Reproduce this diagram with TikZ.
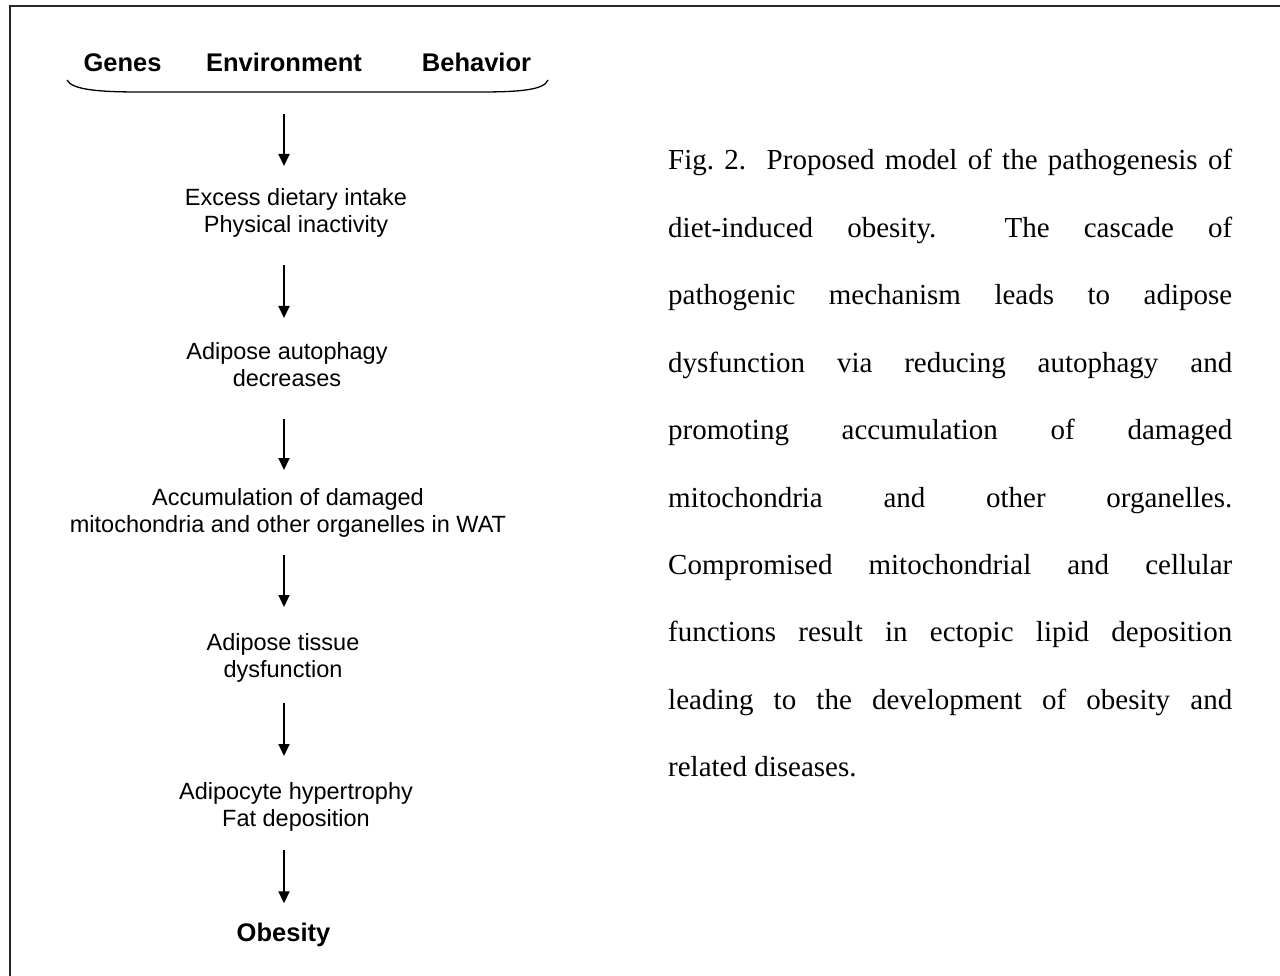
\documentclass[tikz,border=0pt]{standalone}
\usepackage{fontspec}
\setmainfont{Liberation Serif}
\newfontfamily\arialf{Liberation Sans}
\usetikzlibrary{arrows.meta}
\frenchspacing
\begin{document}
\begin{tikzpicture}[x=1pt,y=-1pt,
  steptext/.style={font=\arialf\fontsize{23.5}{27}\selectfont, align=center, inner sep=0pt, anchor=north},
  headtext/.style={font=\arialf\bfseries\fontsize{25.5}{30}\selectfont, inner sep=0pt, anchor=base},
  captext/.style={font=\fontsize{29}{34}\selectfont, inner sep=0pt, anchor=base west},
  flowarrow/.style={line width=1.8pt, -{Triangle[length=12pt,width=11pt]}},
  frameline/.style={line width=2.5pt, black!85},
  bracepath/.style={line width=1.3pt}]
\fill[white] (0,0) rectangle (1280,976);
\useasboundingbox (0,0) rectangle (1280,976);
\draw[frameline] (10,976) -- (10,6) -- (1280,6);

\node[headtext] (genes) at (122.5,72) {Genes};
\node[headtext] (env) at (284,72) {Environment};
\node[headtext] (behav) at (476.5,72) {Behavior};
\draw[bracepath] (67,80) .. controls (72,90) and (100,92) .. (140,92) -- (480,92) .. controls (520,92) and (544,90) .. (548,80);
\coordinate (bracemid) at (284,92);
\coordinate (ax) at (284,0);

\node[steptext] (s1) at (296,188) {Excess dietary intake\\Physical inactivity};
\node[steptext] (s2) at (287,342) {Adipose autophagy\\decreases};
\node[steptext] (s3) at (288,488) {Accumulation of damaged\\mitochondria and other organelles in WAT};
\node[steptext] (s4) at (283,633) {Adipose tissue\\dysfunction};
\node[steptext] (s5) at (296,782) {Adipocyte hypertrophy\\Fat deposition};
\node[headtext] (ob) at (283.5,941) {Obesity};

\draw[flowarrow, shorten <=22pt, shorten >=22pt] (bracemid) -- (s1.north -| ax);
\draw[flowarrow, shorten <=28pt, shorten >=24pt] (s1.south -| ax) -- (s2.north -| ax);
\draw[flowarrow, shorten <=32pt, shorten >=18pt] (s2.south -| ax) -- (s3.north -| ax);
\draw[flowarrow, shorten <=18pt, shorten >=26pt] (s3.south -| ax) -- (s4.north -| ax);
\draw[flowarrow, shorten <=21pt, shorten >=26pt] (s4.south -| ax) -- (s5.north -| ax);
\draw[flowarrow, shorten <=19pt, shorten >=19pt] (s5.south -| ax) -- (ob.north -| ax);

\node[captext] (c1) at (668,170) {\makebox[564pt][s]{Fig. 2.\ \ Proposed model of the pathogenesis of}};
\node[captext] (c2) at (668,237.4) {\makebox[564pt][s]{diet-induced obesity.\ \ The cascade of}};
\node[captext] (c3) at (668,304.8) {\makebox[564pt][s]{pathogenic mechanism leads to adipose}};
\node[captext] (c4) at (668,372.2) {\makebox[564pt][s]{dysfunction via reducing autophagy and}};
\node[captext] (c5) at (668,439.6) {\makebox[564pt][s]{promoting accumulation of damaged}};
\node[captext] (c6) at (668,507) {\makebox[564pt][s]{mitochondria and other organelles.}};
\node[captext] (c7) at (668,574.4) {\makebox[564pt][s]{Compromised mitochondrial and cellular}};
\node[captext] (c8) at (668,641.8) {\makebox[564pt][s]{functions result in ectopic lipid deposition}};
\node[captext] (c9) at (668,709.2) {\makebox[564pt][s]{leading to the development of obesity and}};
\node[captext] (c10) at (668,776.6) {related diseases.};
\end{tikzpicture}
\end{document}
